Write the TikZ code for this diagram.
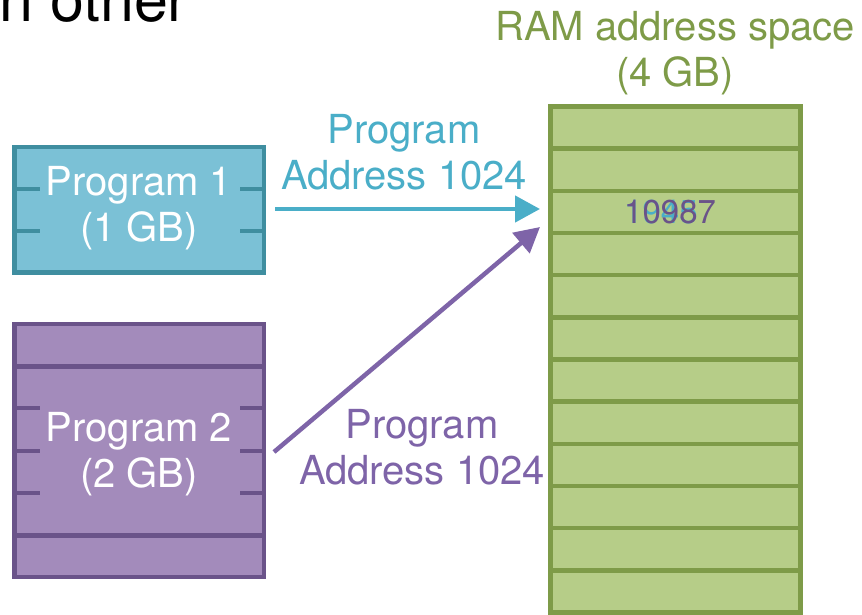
\documentclass[tikz,border=0pt]{standalone}
\usepackage{fontspec}
\setmainfont{TeX Gyre Heros}
\usetikzlibrary{arrows.meta}
\definecolor{tealfill}{HTML}{7BC1D6}
\definecolor{tealdark}{HTML}{3F8EA0}
\definecolor{tealarr}{HTML}{4AAEC8}
\definecolor{purfill}{HTML}{A38BBB}
\definecolor{purdark}{HTML}{6A5389}
\definecolor{purarr}{HTML}{7E64A8}
\definecolor{grnfill}{HTML}{B6CD88}
\definecolor{grndark}{HTML}{7E9B48}
\tikzset{
  big/.style={font=\fontsize{40}{46}\selectfont, align=center, inner sep=0pt},
  prog1box/.style={draw=tealdark, fill=tealfill, line width=4.5pt, inner sep=0pt},
  prog2box/.style={draw=purdark, fill=purfill, line width=4.5pt, inner sep=0pt},
  ramrow/.style={draw=grndark, fill=grnfill, line width=4.5pt, inner sep=0pt, minimum width=250pt, minimum height=42.17pt},
  tick1/.style={draw=tealdark, line width=4.5pt},
  tick2/.style={draw=purdark, line width=4.5pt},
  arr/.style={line width=4.5pt, -{Triangle[length=25pt,width=26pt]}},
  addr/.style={font=\fontsize{33}{36}\selectfont, inner sep=0pt, anchor=base west}
}
\begin{document}
\begin{tikzpicture}[x=1pt,y=-1pt]
\useasboundingbox (0,0) rectangle (862,615);
\clip (0,0) rectangle (862,615);

% heading fragment
\node[font=\fontsize{61}{70}\selectfont, inner sep=0pt, anchor=base west] (head) at (-1,22) {n other};

% Program 1
\node[prog1box, minimum width=249.3pt, minimum height=125.5pt] (p1) at (139.35,209.75) {};
\foreach \yy in {189,231}{
  \draw[tick1] (14.7,\yy) -- (40,\yy);
  \draw[tick1] (240,\yy) -- (264,\yy);
}
\node[big, text=white] (p1t) at (139,208) {Program 1\\(1 GB)};

% Program 2
\node[prog2box, minimum width=249.3pt, minimum height=253pt] (p2) at (139.35,450.5) {};
\foreach \yy in {366.5,535.5}{
  \draw[tick2] (14.7,\yy) -- (264,\yy);
}
\foreach \yy in {408,451,493}{
  \draw[tick2] (14.7,\yy) -- (40,\yy);
  \draw[tick2] (240,\yy) -- (264,\yy);
}
\node[big, text=white] (p2t) at (139,454) {Program 2\\(2 GB)};

% RAM
\foreach \i in {0,...,11}{
  \node[ramrow] (r\i) at (675.5,{106.5+42.17*(\i+0.5)}) {};
}
\node[big, text=grndark] (ramt) at (675,53) {RAM address space\\(4 GB)};

% addresses in RAM
\node[addr, text=tealarr] (a1) at (624,223) {1945};
\node[addr, text=purdark] (a2) at (624,223) {10987};

% arrows
\coordinate (t1) at (275,209);
\coordinate (h1) at (540,209);
\draw[arr, draw=tealarr, fill=tealarr] (t1) -- (h1);
\node[big, text=tealarr] (l1) at (404,152) {Program\\Address 1024};

\coordinate (t2) at (274,452);
\coordinate (h2) at (540,227);
\draw[arr, draw=purarr, fill=purarr] (t2) -- (h2);
\node[big, text=purarr] (l2) at (422,447) {Program\\Address 1024};
\end{tikzpicture}
\end{document}
